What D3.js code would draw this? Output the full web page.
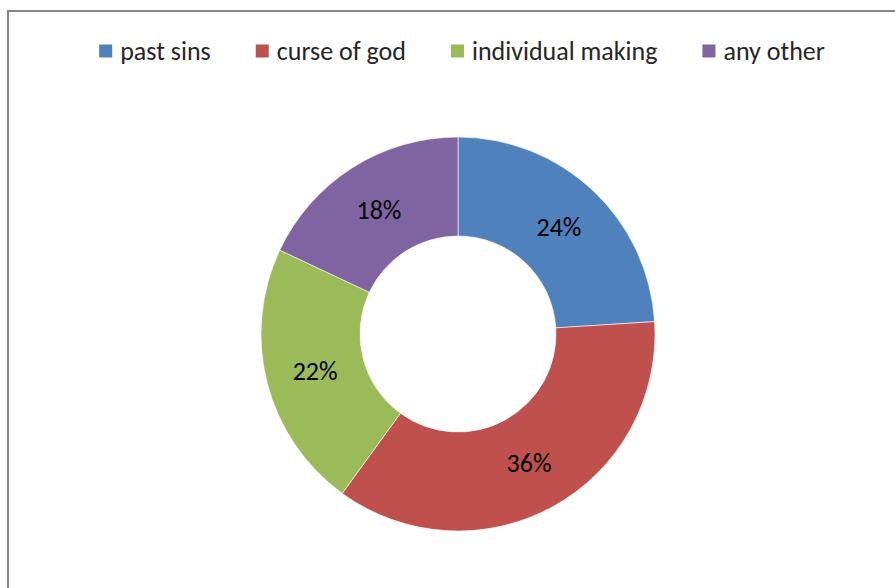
<!DOCTYPE html>
<html>
<head>
<meta charset="utf-8">
<script src="https://cdn.jsdelivr.net/npm/d3@7"></script>
<style>
  html, body { margin: 0; padding: 0; background: #fff; }
  svg { display: block; }
  text { font-family: Carlito, Calibri, Lato, "Open Sans", sans-serif; }
</style>
</head>
<body>
<svg id="chart" width="895" height="588"></svg>
<script>
// Responses: perceived cause
const categories = ["past sins", "curse of god", "individual making", "any other"];
const shares = [24, 36, 22, 18];
const colors = ["#4F81BD", "#C0504D", "#9BBB59", "#8064A2"];

const width = 895, height = 588;
const svg = d3.select("#chart");

// Chart area frame (continues past the right and bottom edges)
svg.append("rect")
  .attr("x", 8).attr("y", 11)
  .attr("width", 920).attr("height", 620)
  .attr("fill", "#fff")
  .attr("stroke", "#868686")
  .attr("stroke-width", 2);

// Donut
const cx = 458, cy = 334, outerR = 197, innerR = 98;
const color = d3.scaleOrdinal().domain(categories).range(colors);
const pie = d3.pie().value(d => d.value).sort(null);
const arc = d3.arc().innerRadius(innerR).outerRadius(outerR);
const data = categories.map((c, i) => ({ name: c, value: shares[i] }));
const arcs = pie(data);

const g = svg.append("g").attr("transform", `translate(${cx},${cy})`);
g.selectAll("path.slice")
  .data(arcs)
  .join("path")
  .attr("class", "slice")
  .attr("d", arc)
  .attr("fill", d => color(d.data.name))
  .attr("stroke", "#fff")
  .attr("stroke-width", 0.6);

const total = d3.sum(shares);
g.selectAll("text.pct")
  .data(arcs)
  .join("text")
  .attr("class", "pct")
  .attr("transform", d => `translate(${arc.centroid(d)})`)
  .attr("text-anchor", "middle")
  .attr("dy", "0.35em")
  .attr("font-size", 26)
  .attr("fill", "#000")
  .text(d => `${Math.round(d.data.value / total * 100)}%`);

// Legend, laid out in one centred row
const legend = svg.append("g").attr("class", "legend");
const legendCenter = 462, legendY = 51, sq = 13, sqGap = 8, itemGap = 45;
const items = legend.selectAll("g.item")
  .data(categories)
  .join("g")
  .attr("class", "item");
items.append("rect")
  .attr("width", sq).attr("height", sq)
  .attr("y", legendY - sq / 2)
  .attr("fill", d => color(d));
items.append("text")
  .attr("x", sq + sqGap)
  .attr("y", legendY)
  .attr("dy", "0.35em")
  .attr("font-size", 26)
  .attr("fill", "#262626")
  .text(d => d);

const widths = [];
items.each(function () {
  widths.push(sq + sqGap + d3.select(this).select("text").node().getComputedTextLength());
});
const totalW = d3.sum(widths) + itemGap * (widths.length - 1);
let xPos = legendCenter - totalW / 2;
items.attr("transform", (d, i) => {
  const t = `translate(${xPos},0)`;
  xPos += widths[i] + itemGap;
  return t;
});
</script>
</body>
</html>
